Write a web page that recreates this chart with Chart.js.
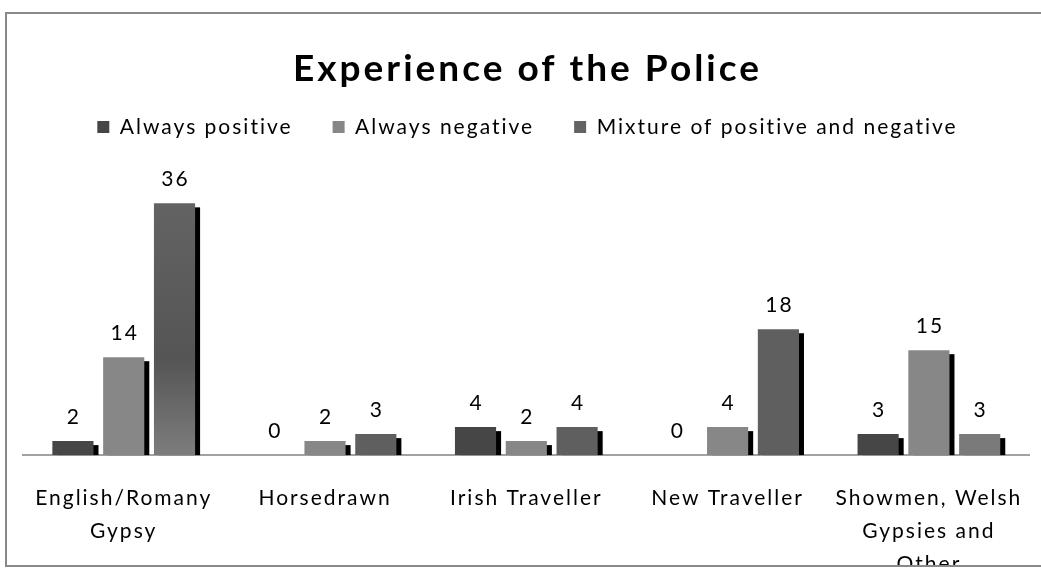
<!DOCTYPE html>
<html>
<head>
<meta charset="utf-8">
<title>Experience of the Police</title>
<script src="https://cdn.jsdelivr.net/npm/chart.js@4.4.1/dist/chart.umd.min.js"></script>
<style>
  body { margin: 0; background: #fff; }
  #frame {
    position: absolute; left: 5px; top: 12px;
    width: 1050px; height: 551px;
    border: 2px solid #898989; overflow: hidden; background: #fff;
  }
  #frame canvas { position: absolute; left: 0; top: 0; }
</style>
</head>
<body>
<div id="frame"><canvas id="police" width="1044" height="594"></canvas></div>
<script>
var groups = [['English/Romany', 'Gypsy'], 'Horsedrawn', 'Irish Traveller', 'New Traveller', ['Showmen, Welsh', 'Gypsies and', 'Other']];
var seriesNames = ['Always positive', 'Always negative', 'Mixture of positive and negative'];
var alwaysPositive = [2, 0, 4, 0, 3];
var alwaysNegative = [14, 2, 2, 4, 15];
var mixture = [36, 3, 4, 18, 3];

Chart.defaults.font.family = 'Lato, "Open Sans", sans-serif';
Chart.defaults.color = '#000';

// canvas text gets a little tracking, like the old office renderer;
// the title is spaced a bit wider than the rest
var tracking = {
  id: 'tracking',
  afterInit: function (chart) {
    var block = chart.titleBlock;
    if (!block) return;
    var draw = block.draw;
    block.draw = function () {
      chart.ctx.letterSpacing = '3px';
      draw.apply(this, arguments);
      chart.ctx.letterSpacing = '2px';
    };
  },
  beforeLayout: function (chart) { chart.ctx.letterSpacing = '2px'; },
  beforeDraw: function (chart) { chart.ctx.letterSpacing = '2px'; }
};

// hard black drop shadow behind every bar
var barShadow = {
  id: 'barShadow',
  beforeDatasetsDraw: function (chart) {
    var ctx = chart.ctx;
    ctx.save();
    ctx.fillStyle = '#000';
    chart.data.datasets.forEach(function (ds, i) {
      chart.getDatasetMeta(i).data.forEach(function (bar) {
        var p = bar.getProps(['x', 'y', 'base', 'width'], true);
        var h = p.base - p.y - 4;
        if (h > 0) ctx.fillRect(p.x - p.width / 2 + 5, p.y + 4, p.width, h);
      });
    });
    ctx.restore();
  }
};

// value above each bar
var valueLabels = {
  id: 'valueLabels',
  afterDatasetsDraw: function (chart) {
    var ctx = chart.ctx;
    ctx.save();
    ctx.font = '21px Lato, "Open Sans", sans-serif';
    ctx.fillStyle = '#000';
    ctx.textAlign = 'center';
    ctx.textBaseline = 'middle';
    chart.data.datasets.forEach(function (ds, i) {
      chart.getDatasetMeta(i).data.forEach(function (bar, j) {
        ctx.fillText(String(ds.data[j]), bar.x + 1, bar.y - 24);
      });
    });
    ctx.restore();
  }
};

function mixtureColour(c) {
  if (c.dataIndex === 4) return '#7a7a7a';
  if (c.dataIndex !== 0 || !c.chart.chartArea) return '#5f5f5f';
  var y = c.chart.scales.y;
  var top = y.getPixelForValue(mixture[0]);
  var bottom = y.getPixelForValue(0);
  var g = c.chart.ctx.createLinearGradient(0, top, 0, bottom);
  g.addColorStop(0, '#636363');
  g.addColorStop(0.62, '#555555');
  g.addColorStop(1, '#7d7d7d');
  return g;
}

new Chart(document.getElementById('police'), {
  type: 'bar',
  data: {
    labels: groups,
    datasets: [
      { label: seriesNames[0], data: alwaysPositive, backgroundColor: '#464646' },
      { label: seriesNames[1], data: alwaysNegative, backgroundColor: '#878787' },
      { label: seriesNames[2], data: mixture, backgroundColor: mixtureColour }
    ]
  },
  options: {
    responsive: false,
    animation: false,
    devicePixelRatio: 1,
    categoryPercentage: 0.757,
    barPercentage: 0.81,
    layout: { padding: { left: 15, right: 18, top: 0, bottom: 0 } },
    plugins: {
      title: {
        display: true,
        text: 'Experience of the Police',
        color: '#000',
        font: { size: 37, weight: 'bold', lineHeight: 1.2 },
        padding: { top: 33, bottom: -15 }
      },
      legend: {
        position: 'top',
        labels: {
          boxWidth: 12,
          boxHeight: 12,
          padding: 40,
          color: '#000',
          font: { size: 21 }
        }
      },
      tooltip: { enabled: false }
    },
    scales: {
      x: {
        grid: { display: false, drawTicks: false },
        border: { color: '#a2a2a2', width: 2 },
        ticks: {
          color: '#000',
          font: { size: 21, lineHeight: 1.57 },
          padding: 27,
          maxRotation: 0,
          autoSkip: false
        }
      },
      y: { display: false, min: 0, max: 44 }
    }
  },
  plugins: [tracking, barShadow, valueLabels]
});
</script>
</body>
</html>
